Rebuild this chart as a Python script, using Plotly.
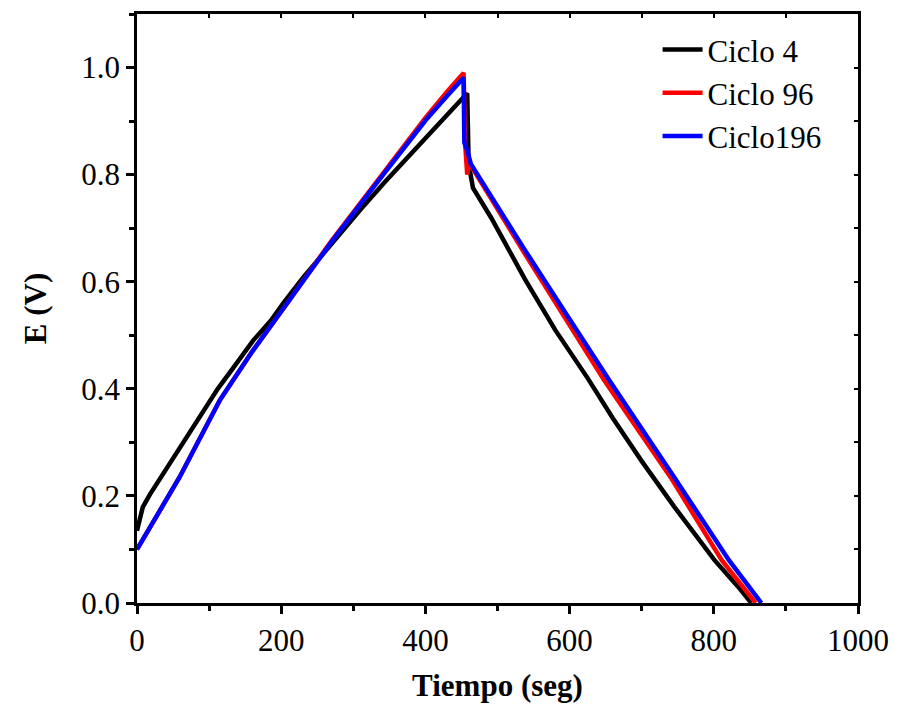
import plotly.graph_objects as go

# ---- data ----
t_c4 = [0, 3, 8, 18, 28, 45, 59, 75, 92, 112, 134, 161, 186, 203, 230, 270, 310, 345, 381, 421, 440, 456, 458,
        460, 463, 466, 491, 538, 580, 625, 660, 700, 745, 801, 834, 852]
e_c4 = [0.135, 0.155, 0.179, 0.203, 0.224, 0.26, 0.291, 0.326, 0.36, 0.40, 0.44, 0.49, 0.528, 0.56, 0.607, 0.672, 0.735, 0.788, 0.84, 0.897, 0.925, 0.95, 0.952,
        0.82, 0.79, 0.775, 0.72, 0.605, 0.51, 0.42, 0.345, 0.265, 0.18, 0.08, 0.03, 0.0]

t_c96 = [0, 30, 59, 115, 160, 211, 270, 331, 367, 400, 430, 452, 453,
         455, 458, 460, 464, 538, 600, 648, 740, 811, 858]
e_c96 = [0.10, 0.17, 0.235, 0.379, 0.47, 0.565, 0.677, 0.784, 0.848, 0.906, 0.955, 0.99, 0.99,
         0.86, 0.80, 0.815, 0.815, 0.652, 0.52, 0.416, 0.235, 0.08, 0.0]

t_c196 = [0, 30, 59, 115, 160, 211, 270, 331, 367, 400, 430, 452, 453,
          454, 458, 463, 538, 600, 655, 740, 821, 866]
e_c196 = [0.10, 0.17, 0.235, 0.379, 0.47, 0.565, 0.675, 0.782, 0.845, 0.901, 0.947, 0.981, 0.981,
          0.86, 0.845, 0.82, 0.659, 0.53, 0.416, 0.245, 0.08, 0.0]

names = ["Ciclo 4", "Ciclo 96", "Ciclo196"]
colors = ["#000000", "#ff0000", "#0000ff"]

x_ticks = [0, 200, 400, 600, 800, 1000]
y_ticks = [0.0, 0.2, 0.4, 0.6, 0.8, 1.0]

FONT = "Liberation Serif"

fig = go.Figure()
for tt, ee, nm, col in zip([t_c4, t_c96, t_c196], [e_c4, e_c96, e_c196], names, colors):
    fig.add_trace(go.Scatter(x=tt, y=ee, mode="lines", name=nm,
                             line=dict(color=col, width=4.5)))

# invisible trace for mirrored inward-tick axes
fig.add_trace(go.Scatter(x=[0], y=[0], xaxis="x2", yaxis="y2", mode="markers",
                         marker=dict(opacity=0), showlegend=False, hoverinfo="skip"))

axis_common = dict(showgrid=False, zeroline=False, showline=True, linecolor="black",
                   linewidth=2.5, ticks="outside", ticklen=8, tickwidth=2.5, tickcolor="black",
                   tickfont=dict(family=FONT, size=31, color="black"))

fig.update_layout(
    width=901, height=715,
    margin=dict(l=137, r=39, t=14, b=112),
    plot_bgcolor="white", paper_bgcolor="white",
    font=dict(family=FONT, size=30, color="black"),
    xaxis=dict(range=[0, 1000], tickvals=x_ticks, ticktext=[str(v) for v in x_ticks],
               minor=dict(dtick=100, ticklen=5, tickwidth=2.5, tickcolor="black", ticks="outside"),
               title=dict(text="<b>Tiempo (seg)</b>", font=dict(family=FONT, size=31, color="black"), standoff=18),
               **axis_common),
    yaxis=dict(range=[0, 1.1], tickvals=y_ticks, ticktext=[f"{v:.1f}" for v in y_ticks],
               minor=dict(dtick=0.1, ticklen=5, tickwidth=2.5, tickcolor="black", ticks="outside"),
               title=dict(text="<b>E (V)</b>", font=dict(family=FONT, size=31, color="black"), standoff=26),
               **axis_common),
    xaxis2=dict(overlaying="x", side="top", range=[0, 1000], showgrid=False, zeroline=False,
                showline=True, linecolor="black", linewidth=2.5, ticks="inside", ticklen=4,
                tickwidth=2, tickcolor="black", dtick=100, showticklabels=False),
    yaxis2=dict(overlaying="y", side="right", range=[0, 1.1], showgrid=False, zeroline=False,
                showline=True, linecolor="black", linewidth=2.5, ticks="inside", ticklen=4,
                tickwidth=2, tickcolor="black", dtick=0.1, showticklabels=False),
    legend=dict(x=0.722, y=0.985, xanchor="left", yanchor="top", bgcolor="rgba(0,0,0,0)",
                font=dict(family=FONT, size=31, color="black"), tracegroupgap=0, itemwidth=40),
    showlegend=True,
)

fig.write_html("out.html")
